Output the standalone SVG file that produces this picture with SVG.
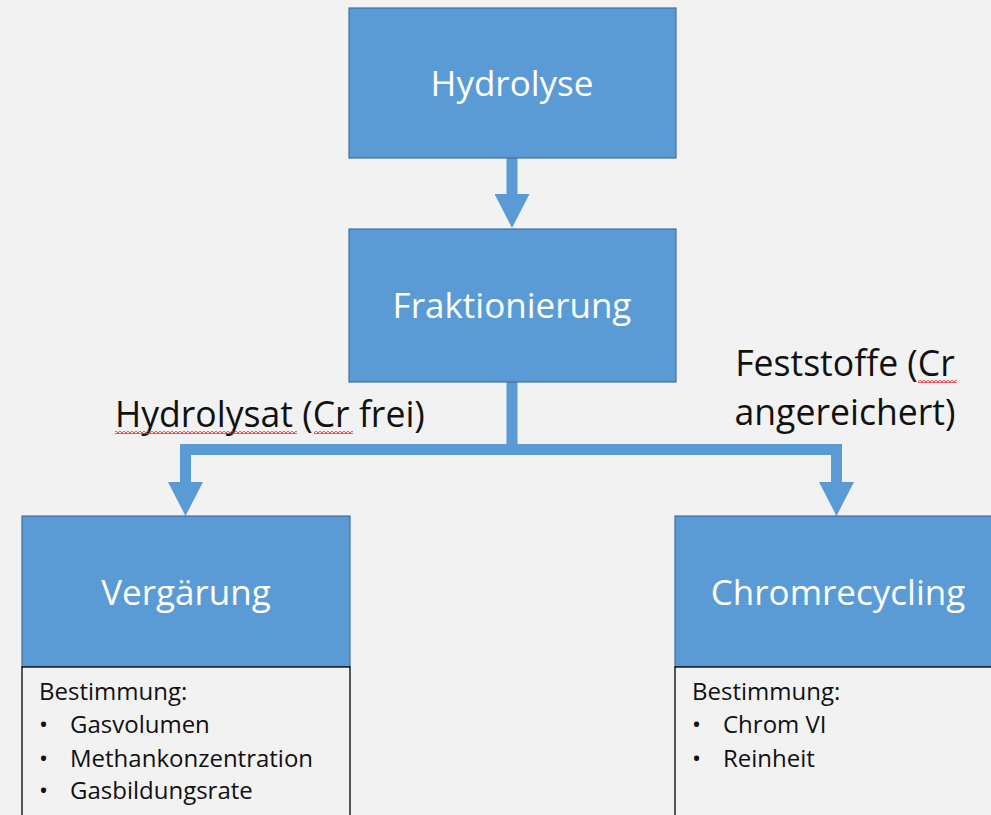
<svg xmlns="http://www.w3.org/2000/svg" width="991" height="815" viewBox="0 0 991 815">
<style>
.box{fill:#5b9bd5;stroke:#41719c;stroke-width:1.2}
.detail{fill:#f2f2f2;stroke:#000;stroke-width:1.3}
.title{font-family:"Open Sans","Liberation Sans",sans-serif;font-size:35px;fill:#fff;text-anchor:middle}
.lbl{font-family:"Open Sans","Liberation Sans",sans-serif;font-size:35.6px;fill:#111}
.txt{font-family:"Open Sans","Liberation Sans",sans-serif;font-size:24px;fill:#111}
.conn{fill:none;stroke:#5b9bd5;stroke-width:11;stroke-linejoin:miter}
</style>
<defs>
<marker id="head" viewBox="0 0 34 35" refX="0" refY="17.5" markerWidth="34" markerHeight="35" markerUnits="userSpaceOnUse" orient="auto">
<path d="M0,0 L34,17.5 L0,35 z" fill="#5b9bd5"/>
</marker>
<pattern id="squig" x="0" y="0" width="4" height="3" patternUnits="userSpaceOnUse">
<path d="M0,2.5 L2,0.5 L4,2.5" stroke="#e3343e" stroke-width="1.2" fill="none"/>
</pattern>
</defs>
<rect width="991" height="815" fill="#f2f2f2"/>

<g id="connectors">
<path class="conn" d="M512,158 V194" marker-end="url(#head)"/>
<path class="conn" d="M512,382 V449.5 H185.5 V482" marker-end="url(#head)"/>
<path class="conn" d="M512,449.5 H836.5 V482" marker-end="url(#head)"/>
</g>

<g id="hydrolyse">
<rect class="box" x="349" y="8" width="327" height="150"/>
<text class="title" x="512" y="96">Hydrolyse</text>
</g>

<g id="fraktionierung">
<rect class="box" x="349" y="229" width="327" height="153"/>
<text class="title" x="512" y="318">Fraktionierung</text>
</g>

<g id="label-hydrolysat">
<text class="lbl" x="115" y="427">Hydrolysat (Cr frei)</text>
<rect x="115" y="431" width="182" height="3" fill="url(#squig)"/>
<rect x="314" y="431" width="39" height="3" fill="url(#squig)"/>
</g>

<g id="label-feststoffe">
<text class="lbl" x="845" y="376" text-anchor="middle">Feststoffe (Cr</text>
<text class="lbl" x="845" y="425" text-anchor="middle">angereichert)</text>
<rect x="918" y="380" width="39" height="3" fill="url(#squig)"/>
</g>

<g id="vergaerung">
<rect class="box" x="22" y="516" width="328" height="151"/>
<text class="title" x="186" y="605">Vergärung</text>
<rect class="detail" x="22" y="667" width="328" height="160"/>
<text class="txt" x="39" y="700">Bestimmung:</text>
<text class="txt" x="39" y="733">•</text><text class="txt" x="70" y="733">Gasvolumen</text>
<text class="txt" x="39" y="767">•</text><text class="txt" x="70" y="767">Methankonzentration</text>
<text class="txt" x="39" y="799">•</text><text class="txt" x="70" y="799">Gasbildungsrate</text>
</g>

<g id="chromrecycling">
<rect class="box" x="675" y="516" width="326" height="151"/>
<text class="title" x="838" y="605">Chromrecycling</text>
<rect class="detail" x="675" y="667" width="326" height="160"/>
<text class="txt" x="692" y="700">Bestimmung:</text>
<text class="txt" x="692" y="733">•</text><text class="txt" x="723" y="733">Chrom VI</text>
<text class="txt" x="692" y="767">•</text><text class="txt" x="723" y="767">Reinheit</text>
</g>
</svg>
